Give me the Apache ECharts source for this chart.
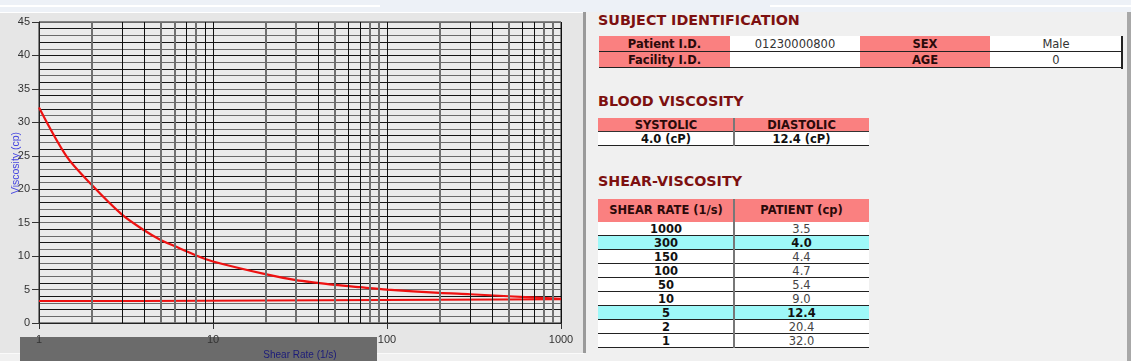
<!DOCTYPE html>
<html><head><meta charset="utf-8">
<script src="https://cdn.jsdelivr.net/npm/echarts@6/dist/echarts.min.js"></script>
<style>
html,body{margin:0;padding:0;width:1131px;height:361px;overflow:hidden;background:#f0f0f0;position:relative;font-family:"DejaVu Sans",sans-serif;}
.abs{position:absolute;box-sizing:border-box;}
.title{position:absolute;left:598px;height:20px;line-height:20px;font-weight:bold;font-size:14.3px;color:#7d1010;white-space:nowrap;}
.cell{position:absolute;box-sizing:border-box;text-align:center;white-space:nowrap;overflow:hidden;font-size:11.5px;color:#222;}
</style></head><body>
<div class="abs" style="left:0;top:0;width:1131px;height:12px;background:#edf1f7"></div>
<div class="abs" style="left:0;top:5px;width:380px;height:2px;background:#fff"></div>
<div class="abs" style="left:770px;top:5px;width:361px;height:2px;background:#fff"></div>
<div class="abs" style="left:0;top:12px;width:584px;height:342px;background:#e6e6e6;border-top:1px solid #fff;border-bottom:1px solid #fafafa"></div>
<div class="abs" style="left:583px;top:12px;width:3px;height:341px;background:#9a9a9a"></div>
<div class="abs" style="left:1127px;top:12px;width:4px;height:349px;background:#a8a8a8"></div>
<div class="abs" style="left:20px;top:337px;width:357px;height:24px;background:#6b6b6b"></div>
<div id="chart" class="abs" style="left:0;top:0;width:590px;height:361px"></div>
<div id="panel"></div>
<script>
// ---------- data ----------
const curveX = [1, 1.44, 2, 3, 4, 5, 6, 8, 10, 20, 30, 40, 50, 70, 100, 200, 300, 500, 1000];
const curveY = [32.2, 24.9, 20.7, 16.2, 13.9, 12.4, 11.5, 10.1, 9.2, 7.3, 6.4, 6.0, 5.7, 5.35, 5.0, 4.5, 4.3, 4.0, 3.6];
const baseX = [1, 4, 4, 1000];
const baseY = [3.3, 3.3, 3.55, 3.55];
const xTickLabels = ['1', '10', '100', '1000'];
const gridX = [2,3,4,5,6,7,8,9, 20,30,40,50,60,70,80,90, 200,300,400,500,600,700,800,900];
const gridShade = ['g','k','k','g','g','k','g','k', 'g','g','k','g','k','k','g','g', 'g','k','k','g','k','k','g','g'];

const subjectLabels = ['Patient I.D.', 'SEX', 'Facility I.D.', 'AGE'];
const subjectValues = ['01230000800', 'Male', '', '0'];
const bvHeaders = ['SYSTOLIC', 'DIASTOLIC'];
const bvValues = ['4.0 (cP)', '12.4 (cP)'];
const svHeaders = ['SHEAR RATE (1/s)', 'PATIENT (cp)'];
const shearRates = ['1000', '300', '150', '100', '50', '10', '5', '2', '1'];
const patientCp = ['3.5', '4.0', '4.4', '4.7', '5.4', '9.0', '12.4', '20.4', '32.0'];
const highlightRates = ['300', '5'];

// ---------- tables ----------
const panel = document.getElementById('panel');
function box(x, y, w, h, css, text) {
  const d = document.createElement('div');
  d.className = 'cell';
  d.style.left = x + 'px'; d.style.top = y + 'px';
  d.style.width = w + 'px'; d.style.height = h + 'px';
  d.style.lineHeight = h + 'px';
  if (css) d.style.cssText += css;
  if (text !== undefined) d.textContent = text;
  panel.appendChild(d);
  return d;
}
function title(y, t) {
  const d = document.createElement('div');
  d.className = 'title'; d.style.top = y + 'px'; d.textContent = t;
  panel.appendChild(d);
}
const PINK = '#fa8080', CYAN = '#9ef8f8';
title(10, 'SUBJECT IDENTIFICATION');
title(91, 'BLOOD VISCOSITY');
title(171, 'SHEAR-VISCOSITY');

// subject table
const c1 = [599, 730, 860, 990, 1122];
for (let r = 0; r < 2; r++) {
  const y = 36 + r * 16;
  for (let c = 0; c < 4; c++) {
    const isLabel = c % 2 === 0;
    const txt = isLabel ? subjectLabels[r * 2 + c / 2] : subjectValues[r * 2 + (c - 1) / 2];
    box(c1[c], y, c1[c + 1] - c1[c], 16,
      'background:' + (isLabel ? PINK : '#fff') + ';border-bottom:1px solid #222;' +
      (isLabel ? 'font-weight:bold;color:#2a0a0a;' : 'color:#333;'), txt);
  }
}
box(1121, 36, 1.5, 33, 'background:#222');

// blood viscosity table
for (let c = 0; c < 2; c++) {
  const x = c === 0 ? 598 : 734, w = c === 0 ? 136 : 135;
  box(x, 118, w, 14, 'background:' + PINK + ';border-bottom:1px solid #333;font-weight:bold;color:#2a0a0a;', bvHeaders[c]);
  box(x, 132, w, 14, 'background:#fff;border-bottom:1px solid #222;font-weight:bold;color:#111;', bvValues[c]);
}
box(733, 118, 2, 28, 'background:#777');

// shear-viscosity table
for (let c = 0; c < 2; c++) {
  const x = c === 0 ? 598 : 734, w = c === 0 ? 136 : 135;
  box(x, 199, w, 23, 'background:' + PINK + ';font-weight:bold;color:#2a0a0a;', svHeaders[c]);
}
for (let r = 0; r < shearRates.length; r++) {
  const y = 222 + r * 14;
  const hl = highlightRates.indexOf(shearRates[r]) >= 0;
  const bg = hl ? CYAN : '#fff';
  box(598, y, 136, 14, 'background:' + bg + ';border-bottom:1px solid #222;font-weight:bold;color:#111;', shearRates[r]);
  box(734, y, 135, 14, 'background:' + bg + ';border-bottom:1px solid #222;color:#444;' + (hl ? 'font-weight:bold;color:#111;' : ''), patientCp[r]);
}
box(733, 199, 2, 23 + 14 * shearRates.length, 'background:#777');

// ---------- chart ----------
const chart = echarts.init(document.getElementById('chart'), null, { renderer: 'canvas' });
const hColors = [];
for (let i = 0; i <= 45; i++) hColors.push(i % 2 === 0 ? '#151515' : '#6a6a6a');
const labelFont = 'Liberation Sans, Arial, sans-serif';
const option = {
  animation: false,
  backgroundColor: 'transparent',
  grid: { left: 39, top: 22, width: 522, height: 301, show: true, backgroundColor: '#ebebeb',
          borderColor: '#222', borderWidth: 1, containLabel: false, outerBoundsMode: 'none' },
  xAxis: {
    type: 'log', logBase: 10, min: 1, max: 1000,
    name: 'Shear Rate (1/s)', nameLocation: 'middle', nameGap: 18,
    nameTextStyle: { color: '#1c1c7a', fontSize: 10, fontFamily: labelFont },
    axisLine: { show: true, lineStyle: { color: '#222' } },
    axisTick: { show: true, length: 6, lineStyle: { color: '#333' } },
    axisLabel: { color: '#333', fontSize: 11, fontFamily: labelFont, margin: 11,
      formatter: function (v) { const i = Math.round(Math.log10(v)); return xTickLabels[i] || ''; } },
    splitLine: { show: true, lineStyle: { color: '#111', width: 1 } },
    minorTick: { show: false }, minorSplitLine: { show: false }
  },
  yAxis: [
    { type: 'value', min: 0, max: 45, interval: 1,
      axisLine: { show: false }, axisTick: { show: false }, axisLabel: { show: false },
      splitLine: { show: true, lineStyle: { color: hColors, width: 1 } } },
    { type: 'value', position: 'left', min: 0, max: 45, interval: 5,
      axisLine: { show: true, lineStyle: { color: '#222' } },
      axisTick: { show: true, length: 7, lineStyle: { color: '#333' } },
      axisLabel: { color: '#333', fontSize: 11, fontFamily: labelFont, margin: 9 },
      splitLine: { show: false } }
  ],
  graphic: [{
    type: 'text', x: 16, y: 163, rotation: Math.PI / 2,
    style: { text: 'Viscosity (cp)', fill: '#4545e0', font: '10.5px ' + labelFont, align: 'center', verticalAlign: 'middle' }
  }],
  series: [
    { type: 'line', name: 'grid', data: [], silent: true, z: 1,
      markLine: { silent: true, symbol: ['none', 'none'], label: { show: false }, animation: false,
        data: gridX.map(function (v, i) {
          return { xAxis: v, lineStyle: { type: 'solid', color: gridShade[i] === 'k' ? '#111' : '#707070', width: gridShade[i] === 'k' ? 1 : 2 } };
        }) } },
    { type: 'line', name: 'baseline', z: 3, symbol: 'none', lineStyle: { color: '#ee1111', width: 2 },
      data: baseX.map(function (x, i) { return [x, baseY[i]]; }) },
    { type: 'line', name: 'viscosity', z: 4, symbol: 'none', smooth: 0.3, lineStyle: { color: '#ee1111', width: 2.2 },
      data: curveX.map(function (x, i) { return [x, curveY[i]]; }) }
  ]
};
chart.setOption(option);
</script>
</body></html>
